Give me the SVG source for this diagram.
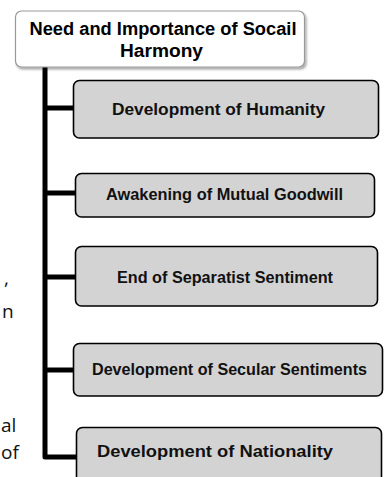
<svg xmlns="http://www.w3.org/2000/svg" width="388" height="477" viewBox="0 0 388 477">
<defs>
<style>
.box{fill:#d3d3d3;stroke:#000;stroke-width:1.6}
.lbl{font-family:"Liberation Sans",Arial,sans-serif;font-weight:bold;font-size:16px;fill:#111;text-anchor:middle}
.ttl{font-family:"Liberation Sans",Arial,sans-serif;font-weight:bold;font-size:18px;fill:#000;text-anchor:middle}
.frag{font-family:"Open Sans","Liberation Sans",sans-serif;font-size:19px;fill:#111;text-anchor:start}
.conn{fill:none;stroke:#000;stroke-width:5;stroke-linejoin:round}
</style>
<filter id="sh" x="-10%" y="-10%" width="130%" height="140%">
<feDropShadow dx="1.5" dy="2" stdDeviation="1.2" flood-color="#000" flood-opacity="0.35"/>
</filter>
</defs>
<rect width="388" height="477" fill="#fff"/>
<g id="background-fragments">
<text class="frag" x="4" y="285">,</text>
<text class="frag" x="2" y="318">n</text>
<text class="frag" x="1" y="432">al</text>
<text class="frag" x="1" y="459">of</text>
</g>
<g id="connectors">
<path class="conn" d="M45,67 V457 H77"/>
<path class="conn" d="M45,108 H74"/>
<path class="conn" d="M45,193 H76"/>
<path class="conn" d="M45,277 H76"/>
<path class="conn" d="M45,370 H74"/>
</g>
<g id="root">
<rect x="15.5" y="11" width="289" height="56" rx="6" fill="#fff" stroke="#999" stroke-width="1.2" filter="url(#sh)"/>
<text class="ttl" x="163" y="35" textLength="267" lengthAdjust="spacingAndGlyphs">Need and Importance of Socail</text>
<text class="ttl" x="161.5" y="57" textLength="83" lengthAdjust="spacingAndGlyphs">Harmony</text>
</g>
<g id="n1">
<rect class="box" x="73.5" y="80.5" width="305" height="57.5" rx="6"/>
<text class="lbl" x="218.5" y="115" textLength="213" lengthAdjust="spacingAndGlyphs">Development of Humanity</text>
</g>
<g id="n2">
<rect class="box" x="75.5" y="173.5" width="299" height="43.5" rx="6"/>
<text class="lbl" x="224.5" y="200" textLength="237" lengthAdjust="spacingAndGlyphs">Awakening of Mutual Goodwill</text>
</g>
<g id="n3">
<rect class="box" x="75.5" y="246.5" width="302" height="59.5" rx="6"/>
<text class="lbl" x="225" y="283" textLength="216" lengthAdjust="spacingAndGlyphs">End of Separatist Sentiment</text>
</g>
<g id="n4">
<rect class="box" x="73.5" y="343.5" width="309" height="52.5" rx="6"/>
<text class="lbl" x="229.5" y="375" textLength="275" lengthAdjust="spacingAndGlyphs">Development of Secular Sentiments</text>
</g>
<g id="n5">
<rect class="box" x="76.5" y="427.5" width="305" height="60" rx="6"/>
<text class="lbl" x="215" y="457" textLength="236" lengthAdjust="spacingAndGlyphs">Development of Nationality</text>
</g>
</svg>
